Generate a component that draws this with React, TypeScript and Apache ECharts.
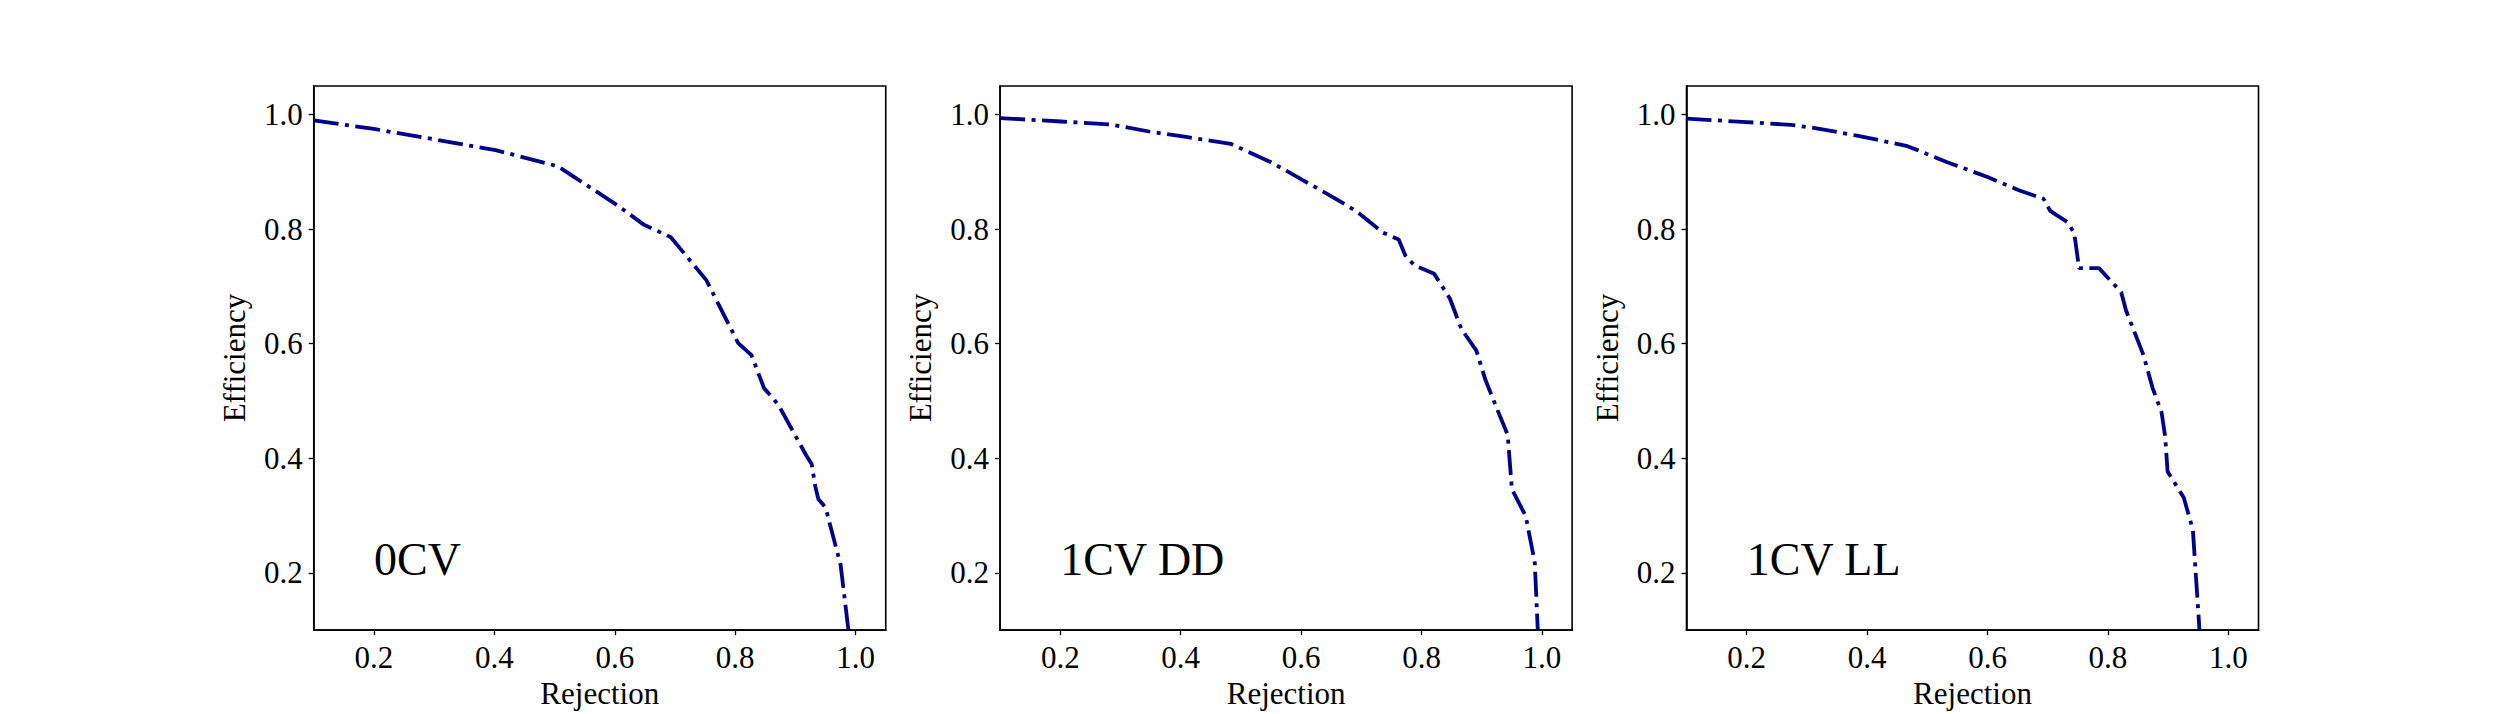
import React, { useEffect, useRef } from "react";
import * as echarts from "echarts";

// Panel 1: 0CV
const rej0 = [0.1, 0.2, 0.283, 0.402, 0.505, 0.604, 0.648, 0.693, 0.752, 0.805, 0.827, 0.848, 0.863, 0.875, 0.919, 0.927, 0.933, 0.938, 0.95, 0.975, 0.988];
const eff0 = [0.99, 0.975, 0.96, 0.938, 0.91, 0.842, 0.808, 0.786, 0.711, 0.601, 0.58, 0.522, 0.505, 0.487, 0.403, 0.39, 0.351, 0.329, 0.314, 0.214, 0.1];

// Panel 2: 1CV DD
const rej1 = [0.1, 0.201, 0.283, 0.35, 0.409, 0.483, 0.55, 0.602, 0.646, 0.691, 0.736, 0.762, 0.773, 0.788, 0.821, 0.847, 0.866, 0.891, 0.906, 0.925, 0.943, 0.95, 0.973, 0.988, 0.993];
const eff1 = [0.994, 0.988, 0.983, 0.97, 0.961, 0.949, 0.917, 0.886, 0.86, 0.832, 0.794, 0.782, 0.754, 0.737, 0.722, 0.679, 0.626, 0.588, 0.537, 0.487, 0.441, 0.346, 0.299, 0.218, 0.1];

// Panel 3: 1CV LL
const rej2 = [0.1, 0.2, 0.274, 0.311, 0.385, 0.467, 0.533, 0.6, 0.652, 0.693, 0.704, 0.733, 0.744, 0.752, 0.785, 0.822, 0.83, 0.859, 0.874, 0.889, 0.895, 0.899, 0.926, 0.941, 0.952];
const eff2 = [0.993, 0.987, 0.982, 0.977, 0.963, 0.945, 0.917, 0.891, 0.868, 0.853, 0.832, 0.812, 0.793, 0.732, 0.732, 0.69, 0.658, 0.58, 0.523, 0.48, 0.438, 0.377, 0.331, 0.275, 0.1];

const panelLabels = ["0CV", "1CV DD", "1CV LL"];
const tickValues = [0.2, 0.4, 0.6, 0.8, 1.0];
const xName = "Rejection";
const yName = "Efficiency";
const labelPos = [0.2, 0.2];

const FONT = "'Liberation Serif', 'Times New Roman', serif";
const LINE_COLOR = "#00008b";

export default function App() {
  const ref = useRef<HTMLDivElement>(null);
  useEffect(() => {
    document.body.style.margin = "0";
    if (!ref.current) return;
    const chart = echarts.init(ref.current, null, { renderer: "svg" });
    const lefts = [313.75, 1000.1, 1686.5];
    const W = 572;
    const top = 86;
    const H = 550;
    const curves = [
      [rej0, eff0],
      [rej1, eff1],
      [rej2, eff2],
    ];
    const grid = lefts.map((l) => ({
      left: l,
      top,
      width: W,
      height: H,
      show: true,
      borderColor: "#000",
      borderWidth: 1.6,
      backgroundColor: "transparent",
    }));
    const axisCommon = {
      type: "value" as const,
      min: 0.1,
      max: 1.05,
      splitLine: { show: false },
      axisLine: { show: true, onZero: false, lineStyle: { color: "#000", width: 1.6 } },
      axisTick: {
        show: true,
        customValues: tickValues,
        length: 5,
        inside: false,
        lineStyle: { color: "#000", width: 1.3 },
      },
      axisLabel: {
        customValues: tickValues,
        formatter: (v: number) => v.toFixed(1),
        color: "#000",
        fontFamily: FONT,
        fontSize: 31,
      },
      nameTextStyle: { color: "#000", fontFamily: FONT, fontSize: 31 },
    };
    const xAxis = lefts.map((_, i) => ({
      ...axisCommon,
      gridIndex: i,
      name: xName,
      nameLocation: "middle",
      nameGap: 36,
      axisLabel: { ...axisCommon.axisLabel, margin: 12 },
    }));
    const yAxis = lefts.map((_, i) => ({
      ...axisCommon,
      gridIndex: i,
      name: yName,
      nameLocation: "middle",
      nameGap: 64,
      axisLabel: { ...axisCommon.axisLabel, margin: 11 },
    }));
    const series: any[] = [];
    curves.forEach(([xs, ys], i) => {
      series.push({
        type: "line",
        xAxisIndex: i,
        yAxisIndex: i,
        data: xs.map((x, k) => [x, ys[k]]),
        showSymbol: false,
        symbol: "none",
        clip: true,
        lineStyle: { color: LINE_COLOR, width: 3.8, type: [25, 6.5, 4, 6.5], cap: "butt" },
        silent: true,
      });
      series.push({
        type: "scatter",
        xAxisIndex: i,
        yAxisIndex: i,
        data: [labelPos],
        symbolSize: 0,
        silent: true,
        label: {
          show: true,
          position: [0, 0],
          align: "left",
          verticalAlign: "bottom",
          offset: [0, 10],
          formatter: () => panelLabels[i],
          color: "#000",
          opacity: 1,
          textBorderWidth: 0,
          fontFamily: FONT,
          fontSize: 46,
        },
      });
    });
    chart.setOption({
      animation: false,
      backgroundColor: "#fff",
      grid,
      xAxis,
      yAxis,
      series,
    });
    return () => chart.dispose();
  }, []);
  return <div ref={ref} style={{ width: 2510, height: 714 }} />;
}
